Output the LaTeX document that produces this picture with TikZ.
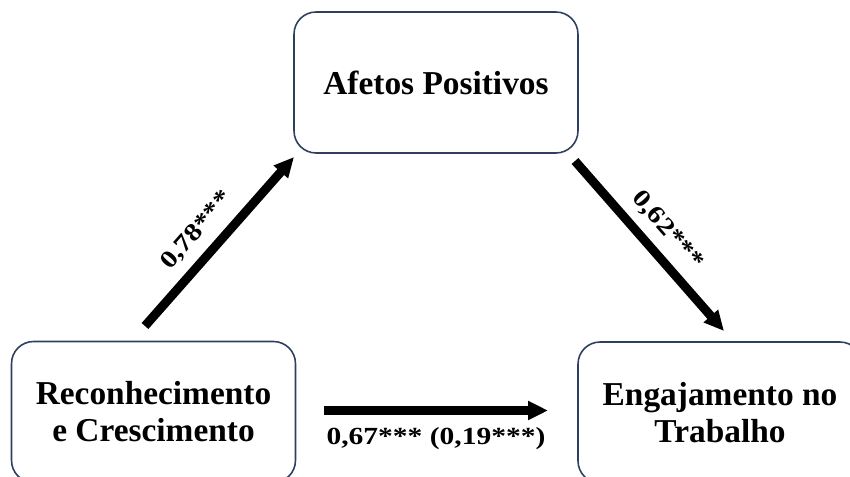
\documentclass[tikz,border=0pt]{standalone}
\usepackage{fontspec}
\setmainfont{Liberation Serif}
\newfontfamily\coeffont[FakeStretch=1.2]{Liberation Serif}
\usepackage{xcolor}
\usetikzlibrary{positioning,arrows.meta}
\definecolor{boxline}{HTML}{2F3F60}

\tikzset{
  varbox/.style={draw=boxline, line width=0.9pt, rounded corners=0.44cm,
    minimum width=5.68cm, minimum height=2.82cm, align=center,
    font=\fontsize{19}{21}\selectfont\bfseries},
  effect/.style={line width=5.1pt, -{Triangle[length=0.4cm,width=0.36cm]}},
  coef/.style={font=\coeffont\fontsize{14}{17}\selectfont\bfseries, text=black}
}

\begin{document}
\begin{tikzpicture}[x=0.02cm, y=-0.02cm]
\useasboundingbox (0,0) rectangle (850,477);
\clip (0,0) rectangle (850,477);

% Nodes
\node (afetos) [varbox] at (436,82.5) {Afetos Positivos};
\node (reconh) [varbox] at (153.5,412) {Reconhecimento\\e Crescimento};
\node (engaj) [varbox] at (720,412.5) {Engajamento no\\Trabalho};

% Arrow ends
\coordinate (a1) at (145,326);
\coordinate (a2) at (294,157);
\coordinate (b1) at (575,161);
\coordinate (b2) at (724,331);
\coordinate (c1) at (324,410.5);
\coordinate (c2) at (548,410.5);

% Arrows with labels
\draw[effect] (a1) -- (a2)
    node[coef, pos=0.47, above=2pt, sloped] {0,78***};
\draw[effect] (b1) -- (b2)
    node[coef, midway, above=2pt, sloped] {0,62***};
\draw[effect] (c1) -- (c2)
    node[coef, midway, below=4pt] {0,67*** (0,19***)};

\end{tikzpicture}
\end{document}
